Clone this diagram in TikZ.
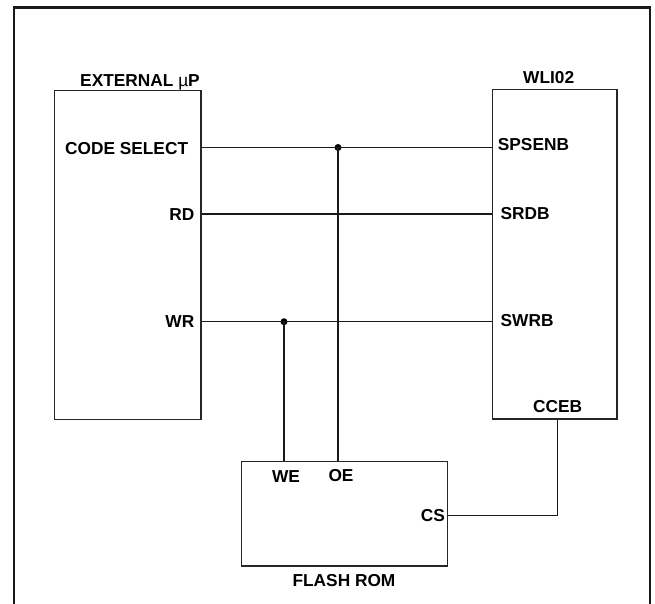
\documentclass[tikz,border=0pt]{standalone}
\usepackage{fontspec}
\setmainfont{Liberation Sans}
\begin{document}
\begin{tikzpicture}[x=1pt,y=-1pt,
  frame/.style={line width=2.6pt,draw=black!90},
  chip/.style={draw=black!85,line width=1.5pt,rectangle,inner sep=0pt},
  wire/.style={draw=black!90,line width=1.3pt},
  lbl/.style={font=\fontsize{17.3pt}{20pt}\selectfont\bfseries,inner sep=0pt},
  junction/.style={circle,fill=black,inner sep=0pt,minimum size=7pt}]
\useasboundingbox (0,0) rectangle (655,603);
% outer frame
\draw[frame] (14,604) -- (14,7.5) -- (650,7.5) -- (650,604);
% chips
\node[chip,minimum width=146.5pt,minimum height=329pt] (ext) at (127.75,255) {};
\node[chip,minimum width=124.3pt,minimum height=329.7pt] (wli) at (554.85,254.15) {};
\node[chip,minimum width=206pt,minimum height=104.3pt] (rom) at (344.7,513.85) {};
% titles
\node[lbl,anchor=base] (extT) at (140,86) {EXTERNAL {\mdseries µ}P};
\node[lbl,anchor=base] (wliT) at (548.7,83) {WLI02};
\node[lbl,anchor=base] (romT) at (344,586) {FLASH ROM};
% pin labels
\node[lbl,anchor=base east] (lcs) at (188.3,154.3) {CODE SELECT};
\node[lbl,anchor=base east] (lrd) at (194.5,220) {RD};
\node[lbl,anchor=base east] (lwr) at (194.5,327.5) {WR};
\node[lbl,anchor=base west] (lsp) at (497.7,150.7) {SPSENB};
\node[lbl,anchor=base west] (lsr) at (500.5,219) {SRDB};
\node[lbl,anchor=base west] (lsw) at (500.5,326) {SWRB};
\node[lbl,anchor=base] (lcc) at (557.7,412.7) {CCEB};
\node[lbl,anchor=base] (lwe) at (286,482) {WE};
\node[lbl,anchor=base] (loe) at (341,481) {OE};
\node[lbl,anchor=base east] (lcsr) at (445,521) {CS};
% pin coordinates
\coordinate (pcs) at (ext.east |- 0,147.5);
\coordinate (prd) at (ext.east |- 0,214);
\coordinate (pwr) at (ext.east |- 0,321.7);
\coordinate (psp) at (wli.west |- 0,147.5);
\coordinate (psr) at (wli.west |- 0,214);
\coordinate (psw) at (wli.west |- 0,321.7);
\coordinate (pcc) at (wli.south -| 557.7,0);
\coordinate (pwe) at (rom.north -| 284,0);
\coordinate (poe) at (rom.north -| 338,0);
\coordinate (prs) at (rom.east |- 0,515.7);
% junctions
\node[junction] (j1) at (338,147.5) {};
\node[junction] (j2) at (284,321.7) {};
% wires
\draw[wire] (pcs) -- (psp);
\draw[wire] (prd) -- (psr);
\draw[wire] (pwr) -- (psw);
\draw[wire] (j1.center) -- (poe);
\draw[wire] (j2.center) -- (pwe);
\draw[wire] (pcc) |- (prs);
\end{tikzpicture}
\end{document}
